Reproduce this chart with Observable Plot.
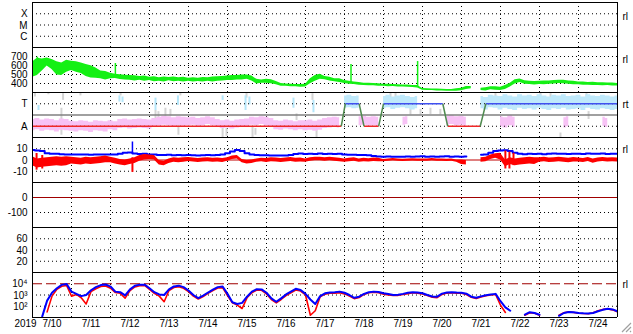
<!DOCTYPE html>
<html><head><meta charset="utf-8">
<script src="https://cdn.jsdelivr.net/npm/d3@7"></script>
<script src="https://cdn.jsdelivr.net/npm/@observablehq/plot@0.6"></script>
<style>
body{margin:0;background:#fff;}
#chart{position:relative;width:633px;height:334px;overflow:hidden;background:#fff;}
</style></head><body><div id="chart"></div>
<script>
// ---------- data (3-hour samples from 2019-07-10 00:00 UTC to 2019-07-25 00:00) ----------
const dayLabels = ["7/10","7/11","7/12","7/13","7/14","7/15","7/16","7/17","7/18","7/19","7/20","7/21","7/22","7/23","7/24"];
const yearLabel = "2019";
const flareTicks = [1,2,3];           const flareLabels = ["C","M","X"];
const speedTicks = [400,500,600,700];
const sectorTicks = [-1,1];           const sectorLabels = ["A","T"];
const bTicks = [-10,0,10];
const dstTicks = [-100,0];
const kpTicks = [20,40,60];
const fluxTicks = [100,1000,10000];   const fluxLabels = ["10²","10³","10⁴"];

// solar wind speed envelope (km/s): low / high of the noisy trace in each 3-hour slot
const speedLo = [470,490,540,595,555,495,488,525,545,525,512,478,462,458,452,438,452,455,444,440,
436,428,436,424,432,419,426,418,430,420,426,418,424,416,422,417,424,418,426,427,
432,434,440,438,447,428,395,402,404,396,386,369,369,364,363,357,361,398,424,446,
441,427,419,411,401,391,389,381,379,375,375,369,369,365,366,361,361,357,356,349,
326,321,321,317,317,314,314,315,319,334,341,null,321,317,331,324,323,334,361,394,
411,391,389,384,389,387,393,394,401,397,393,387,386,381,381,377,377,374,377,373,373];
const speedHi = [640,680,672,682,668,642,628,657,648,642,628,612,598,572,538,532,514,502,498,492,
488,486,478,482,470,476,464,472,466,471,463,469,459,463,458,466,463,471,474,479,
484,490,488,494,494,482,446,439,446,441,421,401,394,393,389,389,393,452,488,502,
479,469,454,452,434,426,417,411,404,403,399,397,393,393,389,387,383,383,379,379,
344,343,339,339,335,334,332,341,347,366,367,null,347,353,364,363,359,379,404,441,
449,431,424,423,424,429,429,433,437,436,427,426,417,416,411,413,409,409,405,406,401];
const speedSpikeH = [3,51,196,237];
const speedSpikeBase = [580,475,405,365];
const speedSpikeTop = [692,622,611,644];

// sector panel (A = -1, T = +1)
const pink = [-0.9,-0.8,-0.95,-0.85,-0.9,-1.0,-0.85,-0.9,
-1.0,-1.05,-0.95,-1.0,-1.1,-0.95,-1.0,-1.05,-0.9,-1.0,
-0.8,-0.75,-0.85,-0.8,-0.75,-0.8,-0.85,-0.7,
-0.6,-0.5,-0.55,-0.65,-0.55,-0.6,
-0.6,-0.55,-0.65,-0.6,-0.5,-0.6,
-0.75,-0.85,-0.8,-0.9,-0.8,-0.75,-0.7,
-0.55,-0.6,-0.5,-0.6,-0.7,
-0.9,-0.95,-0.85,-0.9,-1.0,-0.9,
-0.95,-0.9,-1.0,-0.9,-0.75,-0.7,-0.65,-0.7,
null,null,null,
-0.55,-0.5,-0.6,-0.55,-0.6,
null,null,null,null,
-0.55,-0.5,
null,null,null,null,null,null,null,
-0.5,-0.45,-0.55,-0.5,-0.6,
null,null,null,null,null,null,
-0.6,-0.7,-0.5,-0.65,
null,null,null,null,null,null,null,null,null,
-0.7,-0.6,
null,null,null,null,null,null,
-0.6,-0.7,
null,null];
const pinkSpread = [0.5,0.45,0.4,0.4,0.35,0.35,0.4,0.45,0.4,0.35,0.4,0.4,0.45,0.45,0.4];
const cyan = [null,null,null,null,null,null,null,null,null,null,null,null,null,null,null,null,
null,null,null,null,null,null,null,null,null,null,null,null,null,null,null,null,
null,null,null,null,null,null,null,null,null,null,null,null,null,null,null,null,
null,null,null,null,null,null,null,null,null,null,null,null,null,null,null,null,
1.15,1.2,1.1,1.15,
null,null,null,null,
1.1,1.2,1.05,1.15,1.2,1.1,1.0,1.1,
null,null,null,null,null,null,null,null,null,null,null,null,
1.1,1.0,1.2,1.15,1.05,1.2,1.1,1.0,1.2,1.1,1.15,1.05,1.2,1.1,1.0,1.15,1.1,1.2,1.05,1.1,
1.15,1.0,1.2,1.1,1.05,1.15,1.1,1.0,1.1];
const cyanSpread = [0.4,0.4,0.4,0.4,0.4,0.4,0.4,0.45,0.55,0.55,0.5,0.55,0.6,0.6,0.6];
const cyanSpeckH  = [3.7,53.5,55.4,75.7,89.5,117,131.1,133.5,160.6,172.9];
const cyanSpeckLo = [0.4,1.15,1.1,0.4,0.85,1.3,0.4,0.9,0.6,0.2];
const cyanSpeckHi = [0.85,1.7,1.6,1.5,1.7,1.7,1.7,1.6,1.5,1.3];
const graySpeckH  = [1.5,9.8,17.8,18.8,29.5,54.2,75.7,77.5,81.8,84.9,89.8,91,117,119.4,131.7,135.4,137.2,162.5,174.8,172.3,220.3,223.4,232.6,238.8,244.9,251,284.9,312.6,318.8,324.9,340.9,342.2];
const graySpeckLo = [1.6,1.8,-1.8,1.3,1.7,1.7,-0.9,-0.6,-0.2,-0.1,-1.8,1.7,-2,-1.9,1.5,-2,-1.8,-0.5,-2,1.3,1.2,1.4,0,0,0.05,0,1.3,1.5,1.4,-2,1.3,-0.4];
const graySpeckHi = [2,2,0.6,1.9,2,2,0.4,0.3,0.6,0.5,-0.9,2,-1.1,-1.2,2,-1.1,-1.2,0.1,-1,1.9,2,2,0.6,0.5,0.6,0.5,2,2,1.9,-1.6,1.9,0.3];
// sector polarity breakpoints (hours from 7/10 00:00)
const sectorH = [0,190,192.5,201,204,213,216,252.5,255.5,275.5,279,360];
const sectorV = [-1,-1,1,1,-1,-1,1,1,-1,-1,1,1];

// IMF magnitude Bt and Bz (nT)
const bt = [9,8.5,8,6,5.5,5.5,5.2,5,5,4.8,5,4.9,4.7,4.8,4.9,5,4.8,5,5.5,6.5,
6.6,5.8,5.3,5.6,5,4.8,4.5,4.4,4.6,4.3,4.5,4.2,4.4,4.3,4.1,4.3,4.4,4.2,4.5,5,
6,7.5,8.8,8,6,4.8,4.5,4.3,4.2,4,3.9,4,4.1,4.5,5.4,5.8,5.3,5.6,5.4,5.7,
5.4,5.5,5.3,5.6,4.8,4.6,4.7,4.4,4.5,4.2,3.5,3.2,3,3.1,3,2.9,3,3.2,3,3.1,
3.3,3,3.2,3,3.1,3.3,3,3.2,3,3.1,null,null,4.6,4.8,6.5,8,8.5,8.6,8,6.5,
5.5,5.2,5.5,5.4,5.5,5.2,5.5,5.7,5.5,5.6,5.3,5.6,5.5,5.4,5.8,5.5,5.6,5.7,5.4,5.6,5.5];
const bz = [-1,-3,-2.5,-2,-1.5,-1,-1.5,-1,-0.5,-1,
-1.5,-0.5,-1,-0.5,0,0.5,0,-1,-2,-2.5,
-1.5,-0.5,1.5,2.5,2.5,2,-2.5,-3,-1,0,
-0.5,0,0.5,0,-0.5,0,0.3,-0.3,0,-0.5,
0.5,2,2.5,-1,-2,-1.5,-0.5,0,-0.5,0.3,
0,-0.5,0,0.5,-0.3,0,-0.5,0.5,1,1,
0.5,1,0.5,0,-0.5,0,0.5,-0.5,0,-0.3,
0.2,0,-0.5,0,0.3,0,-0.3,0,0.2,0,
-0.2,0,0.3,0,0,-0.3,0,-1,-2,-2.5,
null,null,0,0.5,2.5,3.5,3,-3,-1,-2,
-1.5,-1,-0.5,-1,0,0.5,-0.3,0,0.5,0,
-0.5,0.3,0,-0.5,0.5,-1,0,0.5,0,0.3,0];
const bzSpread = [4,3,2.5,2,1.8,1.5,1.8,1.5,1.5,1,1,2,3,2,1.8];
const bzSpikeH  = [2.5,6,61.5,291,293.5,296];
const bzSpikeLo = [-9,-8,-11,-8,-8,-5];
const bzSpikeHi = [5.8,4,2,8,7,6];
const btSpikeH = [61.5]; const btSpikeV = [16];

// electron flux, log10 values
const fluxBlue = [null,null,1.1,2.5,3.2,3.6,3.9,3.97,3.3,3.1,
2.9,3.0,3.42,3.7,3.88,3.93,3.75,3.3,3.25,2.97,
3.5,3.82,3.92,3.92,3.6,3.25,3.05,3.0,3.5,3.76,
3.83,3.7,3.4,3.0,2.73,2.95,3.22,3.47,3.7,3.75,
3.1,2.35,2.2,2.3,2.85,3.3,3.52,3.5,3.2,2.7,
2.4,2.7,3.05,3.3,3.55,3.45,3.1,2.6,2.2,2.9,
3.15,3.23,3.25,3.3,3.2,3.0,2.75,2.85,3.1,3.25,
3.3,3.27,3.15,3.08,3.0,3.03,3.1,3.2,3.25,3.22,
3.15,3.0,2.87,2.85,3.12,3.22,3.25,3.22,3.2,3.12,
2.85,2.75,2.88,2.98,3.05,3.1,2.45,1.9,1.6,null,
null,1.25,1.47,1.4,1.25,null,null,null,1.15,1.4,
1.48,1.47,1.4,1.37,1.35,1.4,1.55,1.68,1.77,1.72,1.55];
const fluxRed = [null,null,null,1.5,2.9,3.5,3.78,3.85,2.9,3.05,
2.75,2.2,3.3,3.55,3.75,3.8,3.6,3.22,3.15,2.72,
3.4,3.72,3.83,3.85,3.5,3.15,2.9,2.4,3.4,3.66,
3.74,3.6,3.3,2.9,2.65,2.87,3.15,3.4,3.62,3.65,
2.95,2.3,2.1,1.8,2.75,3.2,3.45,3.42,3.1,2.6,
2.3,2.6,2.95,3.2,3.45,3.35,3.0,1.2,1.6,2.85,
3.08,3.15,3.17,3.2,3.1,2.9,2.68,2.78,3.05,3.2,
3.25,3.2,3.07,3.0,2.95,2.97,3.05,3.12,3.2,3.17,
3.1,2.95,2.8,2.76,3.05,3.17,3.2,3.17,3.15,3.05,
2.8,2.68,2.82,2.93,3.0,3.05,2.1,1.45,null,null,
null,1.2,1.42,1.38,1.2,null,null,null,1.2,1.42,
1.5,1.45,1.38,1.35,1.33,1.42,1.6,1.72,1.75,1.68,1.5];
const fluxAlert = 10000;

// ---------- helpers ----------
const T0 = Date.UTC(2019,6,10), T1 = Date.UTC(2019,6,25), HR = 3600e3, STEP = 3;
const atH = h => new Date(T0 + h*HR);
const atI = i => atH(i*STEP);
const dayOf = i => Math.min(14, Math.floor(i*STEP/24));
const dayGrid = dayLabels.slice(1).map((d,k) => atH(24*(k+1)));
const FONT = '"Liberation Sans",Arial,sans-serif';
const chart = document.getElementById("chart");

const num = v => v == null ? NaN : v;
const band = (arr, spread) => arr.map((v,i) => ({t: atI(i), v: num(v),
  lo: v == null ? NaN : v - spread[dayOf(i)], hi: v == null ? NaN : v + spread[dayOf(i)]}));
const speedRows = speedLo.map((lo,i) => ({t: atI(i), lo: num(lo), hi: num(speedHi[i])}));
const pinkRows = band(pink, pinkSpread);
const cyanRows = band(cyan, cyanSpread);
const btRows = bt.map((v,i) => ({t: atI(i), v: num(v)}));
const bzRows = band(bz, bzSpread);
const fluxRows = fluxBlue.map((b,i) => ({t: atI(i), blue: b == null ? NaN : 10**b, red: fluxRed[i] == null ? NaN : 10**fluxRed[i]}));
const segs = sectorH.slice(1).map((h,k) => ({x1: atH(sectorH[k]), x2: atH(h), y1: sectorV[k], y2: sectorV[k+1],
  kind: sectorV[k] !== sectorV[k+1] ? "turn" : (sectorV[k] < 0 ? "A" : "T")}));

function yAxis(ticks, labels) {
  return Plot.axisY({ticks, tickSize: 0, tickPadding: 5, label: null,
    tickFormat: labels ? (d => labels[ticks.indexOf(d)]) : (d => String(d))});
}
const dotted = ticks => Plot.ruleY(ticks, {stroke: "black", strokeDasharray: "1,3"});
const tag = (s, dy) => Plot.text([s], {frameAnchor: "top-right", dx: 5, dy, textAnchor: "start", fontSize: 10, className: "tag"});

function panel(top, yOpts, marks, mb = 0) {
  const svg = Plot.plot({
    width: 633, height: 45 + mb,
    marginLeft: 32, marginRight: 16, marginTop: 0, marginBottom: mb,
    style: {fontFamily: FONT, fontSize: "11px", color: "black", background: "none", overflow: "visible"},
    x: {type: "utc", domain: [new Date(T0), new Date(T1)], axis: null},
    y: {axis: null, ...yOpts},
    marks: [
      Plot.ruleX(dayGrid, {stroke: "black", strokeDasharray: "1,3"}),
      ...marks,
      Plot.ruleY([yOpts.domain[1]], {stroke: "black"}),
      Plot.ruleX([new Date(T0), new Date(T1)], {stroke: "black"})
    ]
  });
  // condensed look of the original bitmap font
  svg.querySelectorAll("text").forEach(t => {
    if (t.closest(".tag")) return;
    const tr = t.getAttribute("transform");
    if (tr) t.setAttribute("transform", tr + " scale(0.9,1)");
  });
  Object.assign(svg.style, {position: "absolute", left: "0px", top: top + "px"});
  chart.appendChild(svg);
}

// 1: flare class
panel(2, {domain: [0,4]}, [dotted(flareTicks), yAxis(flareTicks, flareLabels), tag("rl", 10.5)]);

// 2: solar wind speed
panel(47, {domain: [300,800]}, [
  dotted(speedTicks),
  Plot.areaY(speedRows, {x: "t", y1: "lo", y2: "hi", fill: "#14f014", clip: true}),
  Plot.ruleX(speedSpikeH, {x: h => atH(h), y1: (h,i) => speedSpikeBase[i], y2: (h,i) => speedSpikeTop[i], stroke: "#14f014", strokeWidth: 1.5, clip: true}),
  yAxis(speedTicks), tag("rl", 8)
]);

// 3: sector
panel(92, {domain: [-2,2]}, [
  Plot.ruleX(graySpeckH, {x: h => atH(h), y1: (h,i) => graySpeckLo[i], y2: (h,i) => graySpeckHi[i], stroke: "#d4d4d4", strokeWidth: 2, clip: true}),
  Plot.areaY(pinkRows, {x: "t", y1: "lo", y2: "hi", fill: "#f7c2f5", curve: "step", clip: true}),
  Plot.areaY(cyanRows, {x: "t", y1: "lo", y2: "hi", fill: "#bfe9fb", curve: "step", clip: true}),
  Plot.ruleX(cyanSpeckH, {x: h => atH(h), y1: (h,i) => cyanSpeckLo[i], y2: (h,i) => cyanSpeckHi[i], stroke: "#b4e6fa", strokeWidth: 2, clip: true}),
  dotted(sectorTicks),
  Plot.ruleY([0], {stroke: "#808080", strokeWidth: 1.5}),
  Plot.link(segs.filter(d => d.kind === "A"), {x1: "x1", x2: "x2", y1: "y1", y2: "y2", stroke: "#f02828", strokeWidth: 1.5}),
  Plot.link(segs.filter(d => d.kind === "T"), {x1: "x1", x2: "x2", y1: "y1", y2: "y2", stroke: "#4050f0", strokeWidth: 1.5}),
  Plot.link(segs.filter(d => d.kind === "turn"), {x1: "x1", x2: "x2", y1: "y1", y2: "y2", stroke: "#4f8a4f", strokeWidth: 1.5}),
  yAxis(sectorTicks, sectorLabels), tag("rt", 8.5)
]);

// 4: IMF Bt / Bz
panel(137, {domain: [-20,20]}, [
  dotted([-10,10]),
  Plot.line(btRows, {x: "t", y: "v", stroke: "#0000ff", strokeWidth: 2, curve: "step", clip: true}),
  Plot.ruleX(btSpikeH, {x: h => atH(h), y1: 5, y2: (h,i) => btSpikeV[i], stroke: "#0000ff", strokeWidth: 1.5, clip: true}),
  Plot.ruleY([0], {stroke: "#c00000"}),
  Plot.areaY(bzRows, {x: "t", y1: "lo", y2: "hi", fill: "#ff0000", clip: true}),
  Plot.ruleX(bzSpikeH, {x: h => atH(h), y1: (h,i) => bzSpikeLo[i], y2: (h,i) => bzSpikeHi[i], stroke: "#ff0000", strokeWidth: 2, clip: true}),
  yAxis(bTicks), tag("rl", 8.7)
]);

// 5: Dst
panel(182, {domain: [-200,100]}, [
  dotted([-100]),
  Plot.ruleY([0], {stroke: "#a00000", strokeWidth: 1.2}),
  yAxis(dstTicks)
]);

// 6: Kp-like
panel(227, {domain: [0,80]}, [dotted(kpTicks), yAxis(kpTicks)]);

// 7: electron flux
panel(272, {type: "log", domain: [10,1e5]}, [
  dotted([100,1000]),
  Plot.ruleY([fluxAlert], {stroke: "#a00000", strokeWidth: 1.2, strokeDasharray: "10,4"}),
  Plot.line(fluxRows, {x: "t", y: "red", stroke: "#ff0000", strokeWidth: 1.6, clip: true}),
  Plot.line(fluxRows, {x: "t", y: "blue", stroke: "#0000ff", strokeWidth: 2, clip: true}),
  Plot.ruleY([10], {stroke: "black"}),
  yAxis(fluxTicks, fluxLabels), tag("rl", 8.7),
  Plot.text(dayLabels, {x: (d,i) => atH(12 + 24*i), frameAnchor: "bottom", dy: 9}),
  Plot.text([yearLabel], {frameAnchor: "bottom-left", dx: -18, dy: 9})
], 17);

// window resize grip (decoration)
chart.insertAdjacentHTML("beforeend",
  '<svg style="position:absolute;left:617px;top:318px" width="16" height="16"><path d="M14 5L5 14M14 9L9 14M14 13L13 14" stroke="#a0a0a0" stroke-width="1.2"/></svg>');
</script></body></html>
